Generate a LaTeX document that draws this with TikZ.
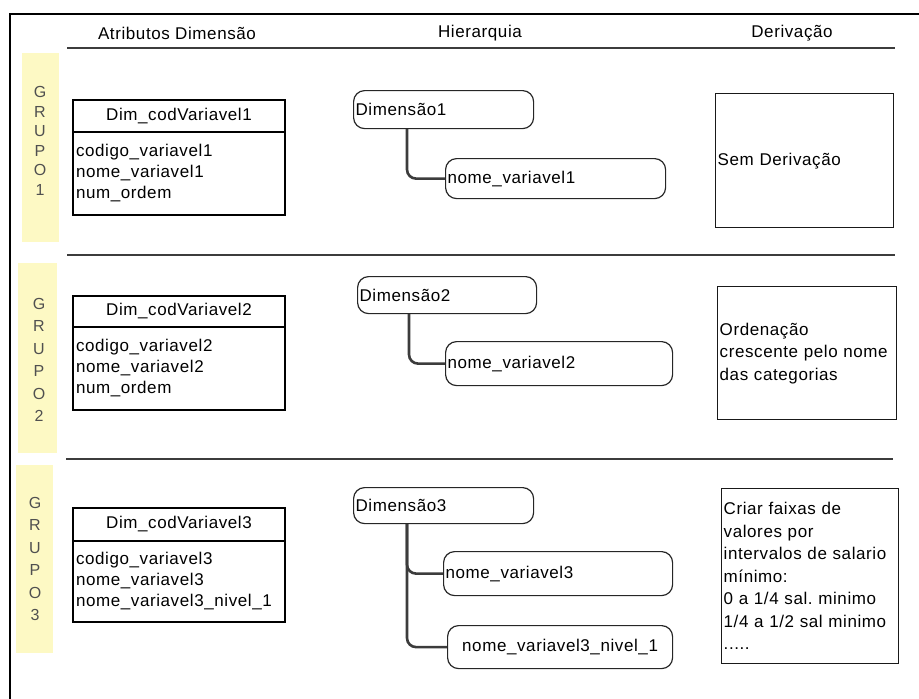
\documentclass[tikz,border=0pt]{standalone}
\usepackage{fontspec}
\setmainfont[LetterSpace=3.5]{Liberation Sans}
\definecolor{paleyellow}{RGB}{253,249,196}
\definecolor{rulegray}{RGB}{60,60,60}
\definecolor{lettergray}{RGB}{80,80,80}

\begin{document}
\begin{tikzpicture}[x=1pt,y=-1pt,
  every node/.style={font=\fontsize{17}{21}\selectfont, inner sep=0pt},
  rulebar/.style={draw=rulegray, line width=2.2pt},
  grp/.style={align=center, text=lettergray, font=\fontsize{16}{19.6}\selectfont},
  grpwide/.style={grp, font=\fontsize{16}{22.4}\selectfont},
  tabhead/.style={draw, line width=2.4pt, outer sep=0pt, minimum width=212pt, align=center, anchor=north west},
  tabbody/.style={draw, line width=2.4pt, outer sep=0pt, text width=206pt, inner xsep=3pt, align=left, anchor=north west},
  hbox/.style={draw=black!85, line width=1.2pt, rounded corners=11pt, inner xsep=2pt, align=left, anchor=north west},
  link/.style={draw=rulegray, line width=2.6pt, rounded corners=9pt},
  dbox/.style={draw=black!90, line width=1.4pt, inner xsep=2pt, align=left, anchor=north west,
               font=\fontsize{17}{22.5}\selectfont}
]
\useasboundingbox (0,0) rectangle (919,699);

% outer frame (top and left edges)
\draw[line width=2pt] (10,699) -- (10,14) -- (919,14);

% column headings and section rules
\node (hattr) at (177,33) {Atributos Dimensão};
\node (hhier) at (480,33) {Hierarquia};
\node (hderiv) at (792,33) {Derivação};
\draw[rulebar] (67,48) -- (895,48);
\draw[rulebar] (67,255) -- (895,255);
\draw[rulebar] (66,459) -- (893,459);

% group labels
\fill[paleyellow] (22,53) rectangle (59,242);
\fill[paleyellow] (18,263) rectangle (57,453);
\fill[paleyellow] (16,465) rectangle (53,653);
\node[grp] (g1) at (40,141) {G\\R\\U\\P\\O\\1};
\node[grpwide] (g2) at (39,360) {G\\R\\U\\P\\O\\2};
\node[grpwide] (g3) at (35,559) {G\\R\\U\\P\\O\\3};

% dimension attribute tables
\node[tabhead, minimum height=32pt] (t1h) at (73,100) {Dim\_codVariavel1};
\node[tabbody, minimum height=83pt] (t1b) at (t1h.south west) {codigo\_variavel1\\nome\_variavel1\\num\_ordem};
\node[tabhead, minimum height=31pt] (t2h) at (73,296) {Dim\_codVariavel2};
\node[tabbody, minimum height=83pt] (t2b) at (t2h.south west) {codigo\_variavel2\\nome\_variavel2\\num\_ordem};
\node[tabhead, minimum height=33pt] (t3h) at (73,508) {Dim\_codVariavel3};
\node[tabbody, minimum height=81pt] (t3b) at (t3h.south west) {codigo\_variavel3\\nome\_variavel3\\nome\_variavel3\_nivel\_1};

% hierarchies
\node[hbox, text width=176pt, minimum height=38pt] (p1) at (353,90) {Dimensão1};
\node[hbox, text width=216pt, minimum height=40pt] (c1) at (445,158) {nome\_variavel1};
\draw[link] (p1.south west) ++(54,0) |- (c1.west);

\node[hbox, text width=175pt, minimum height=37pt] (p2) at (357,276) {Dimensão2};
\node[hbox, text width=223pt, minimum height=44pt] (c2) at (445,341) {nome\_variavel2};
\draw[link] (p2.south west) ++(52,0) |- (c2.west);

\node[hbox, text width=176pt, minimum height=36pt] (p3) at (353,487) {Dimensão3};
\node[hbox, text width=225pt, minimum height=44pt] (c3a) at (443,551) {nome\_variavel3};
\node[hbox, text width=221pt, minimum height=43pt, align=center] (c3b) at (447,625) {nome\_variavel3\_nivel\_1};
\draw[link] (p3.south west) ++(54,0) |- (c3b.west);
\draw[link] (p3.south west) ++(54,0) |- (c3a.west);

% derivations
\node[dbox, text width=174pt, minimum height=134pt] (d1) at (715,93) {Sem Derivação};
\node[dbox, text width=175pt, minimum height=133pt] (d2) at (717,286) {Ordenação\\crescente pelo nome\\das categorias};
\node[dbox, text width=173pt, minimum height=175pt] (d3) at (721,488)
  {Criar faixas de\\valores por\\intervalos de salario\\mínimo:\\0 a 1/4 sal.\ minimo\\1/4 a 1/2 sal minimo\\.....};
\end{tikzpicture}
\end{document}
